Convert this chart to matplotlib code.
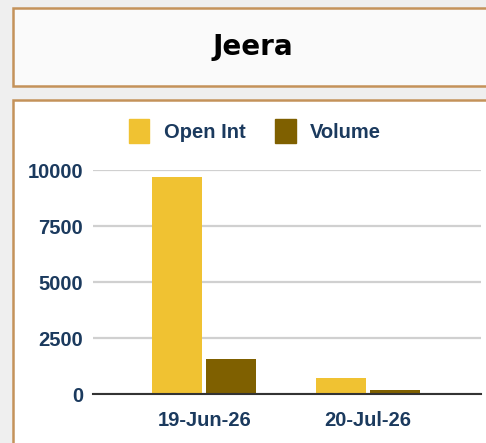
import matplotlib.pyplot as plt
from matplotlib.patches import Rectangle, Patch

categories = ["19-Jun-26", "20-Jul-26"]
open_int = [9700, 710]
volume = [1560, 180]
yticks = [0, 2500, 5000, 7500, 10000]

W, H = 486, 443
navy = "#1B3A5E"
border = "#C4925A"
c_open = "#F0C232"
c_vol = "#7F6000"

plt.rcParams["font.family"] = ["Liberation Sans", "DejaVu Sans"]

fig = plt.figure(figsize=(W / 100, H / 100), dpi=100)
fig.patch.set_facecolor("#EFEFEF")


def box(x0, y0, x1, y1, fc):
    # pixel coords from top-left
    r = Rectangle((x0 / W, 1 - y1 / H), (x1 - x0) / W, (y1 - y0) / H,
                  transform=fig.transFigure, facecolor=fc, edgecolor=border,
                  linewidth=1.8, zorder=-5)
    fig.patches.append(r)


box(13, 8, 492, 86, "#FAFAFA")
box(13, 100, 492, 450, "white")

fig.text(253 / W, 1 - 47 / H, "Jeera", ha="center", va="center",
         fontsize=20, fontweight="bold", color="black", family="DejaVu Sans")

ax = fig.add_axes([93 / W, 1 - 394 / H, (481 - 93) / W, (394 - 170) / H])
ax.set_zorder(5)
ax.set_facecolor("none")

x = list(range(len(categories)))
w = 0.305
off = 0.165
ax.bar([i - off for i in x], open_int, width=w, color=c_open, zorder=3)
ax.bar([i + off for i in x], volume, width=w, color=c_vol, zorder=3)

ax.set_xlim(-0.68, 1.69)
ax.set_ylim(0, 10000)
ax.set_yticks(yticks)
ax.set_xticks(x)
ax.set_xticklabels(categories)
ax.grid(axis="y", color="#D0D0D0", linewidth=1.6, zorder=0)
ax.set_axisbelow(True)
for s in ["top", "right", "left"]:
    ax.spines[s].set_visible(False)
ax.spines["bottom"].set_color("#333333")
ax.spines["bottom"].set_linewidth(1.5)
ax.spines["bottom"].set_zorder(4)
ax.tick_params(axis="both", length=0, labelcolor=navy, labelsize=14.5)
ax.tick_params(axis="y", pad=7)
ax.tick_params(axis="x", pad=12)
for lab in ax.get_xticklabels() + ax.get_yticklabels():
    lab.set_fontweight("bold")

handles = [Patch(color=c_open, label="Open Int"), Patch(color=c_vol, label="Volume")]
leg = fig.legend(handles=handles, loc="center", bbox_to_anchor=(255 / W, 1 - 131 / H),
                 ncol=2, frameon=False, fontsize=14.5, handlelength=1.0, handleheight=1.4,
                 handletextpad=0.7, columnspacing=1.5)
for t in leg.get_texts():
    t.set_color(navy)
    t.set_fontweight("bold")

fig.savefig("out.png", dpi=100, facecolor=fig.get_facecolor())
